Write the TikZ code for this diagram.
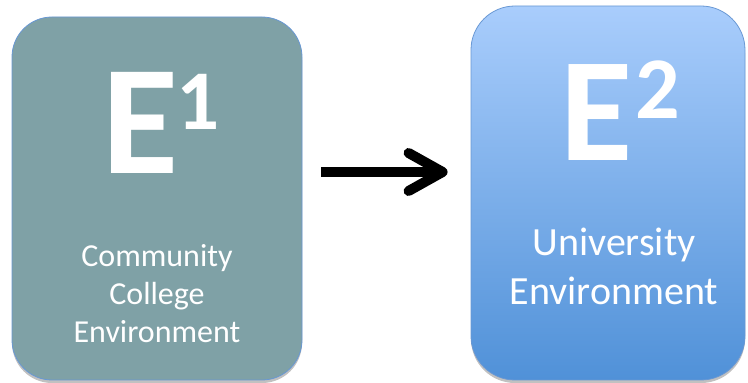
\documentclass[tikz,border=0pt]{standalone}
\usepackage{fontspec}
\setmainfont{Carlito}
\usetikzlibrary{arrows.meta,shadows}

\definecolor{collegefill}{RGB}{127,161,166}
\definecolor{unitop}{RGB}{169,205,252}
\definecolor{unibottom}{RGB}{80,145,216}
\definecolor{boxline}{RGB}{105,152,212}

\tikzset{
    envbox/.style = {draw = boxline, line width = 0.8pt, inner sep = 0pt, rounded corners = 40pt,
        drop shadow = {shadow xshift = 0pt, shadow yshift = -3pt, opacity = 0.35, fill = black!70}},
    bigletter/.style = {text = white, font = \bfseries, inner sep = 0pt, anchor = base},
    envtext/.style = {text = white, align = center, inner sep = 0pt, anchor = base},
    bigarrow/.style = {line width = 10pt, -{Straight Barb[length = 34pt, width = 38pt, round]}}
}

\begin{document}
\begin{tikzpicture}[x = 1pt, y = 1pt]
            \useasboundingbox (0,0) rectangle (748,383);
            \node[envbox, fill = collegefill, minimum width = 290pt, minimum height = 363pt] (env1) at (157,184.5) {};
            \node[envbox, top color = unitop, bottom color = unibottom, rounded corners = 44pt,
                  minimum width = 274pt, minimum height = 374pt] (env2) at (608,190) {};
            \node[bigletter] (e1) at (161,209) {\fontsize{156}{156}\selectfont E\kern-2pt\raisebox{44pt}{\fontsize{85}{85}\selectfont 1}};
            \node[bigletter] (e2) at (620,222) {\fontsize{148}{148}\selectfont E\kern3pt\raisebox{42pt}{\fontsize{88}{88}\selectfont 2}};
            \node[envtext, font = \fontsize{32}{38}\selectfont] (college) at (157,40) {Community\\College\\Environment};
            \node[envtext, font = \fontsize{40}{49}\selectfont] (university) at (614,78) {University\\Environment};
            \draw[bigarrow, shorten <= 19pt, shorten >= 23pt] (env1.east) ++(0,26.5) coordinate (from) -- (from -| env2.west);
\end{tikzpicture}
\end{document}
